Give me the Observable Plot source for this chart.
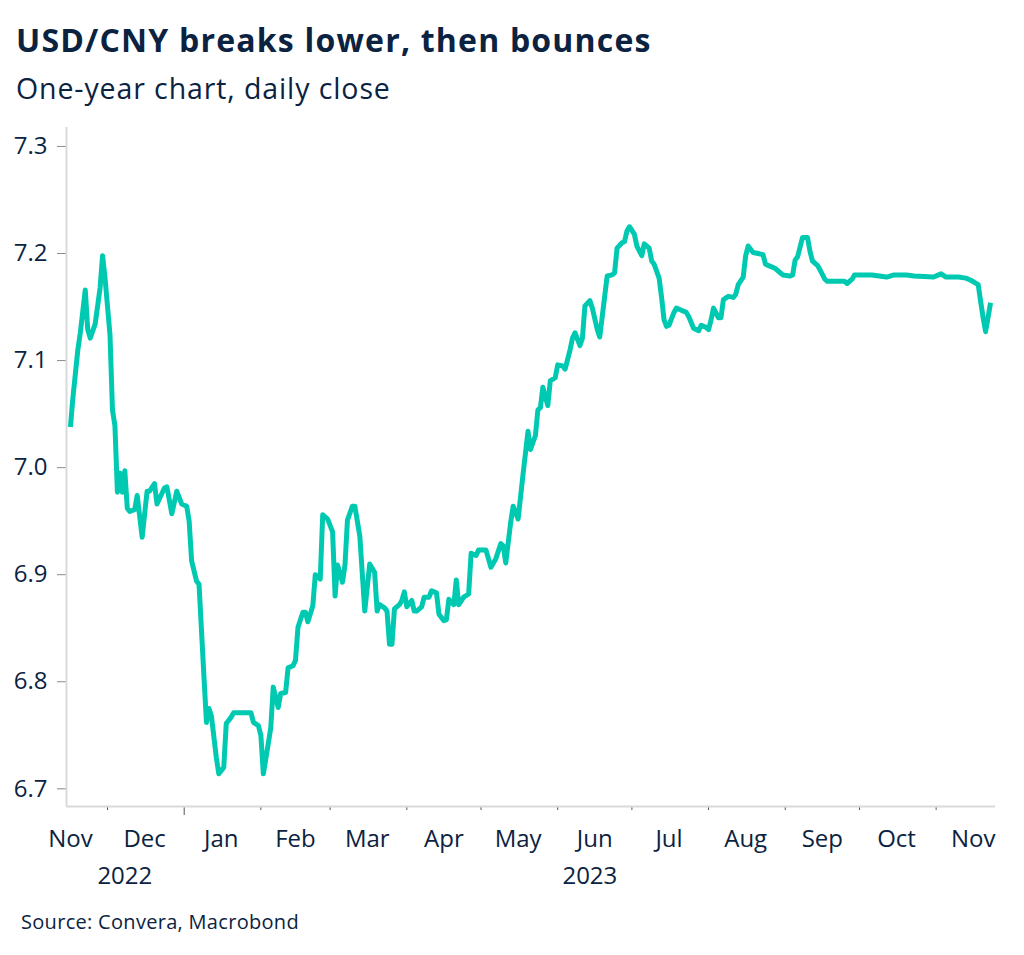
<!DOCTYPE html>
<html>
<head>
<meta charset="utf-8">
<script src="https://cdn.jsdelivr.net/npm/d3@7"></script>
<script src="https://cdn.jsdelivr.net/npm/@observablehq/plot@0.6"></script>
<style>
  body { margin: 0; background: #fff; font-family: "Open Sans", sans-serif; color: #0b2341; }
  #wrap { position: relative; width: 1024px; height: 955px; overflow: hidden; }
  #title { position: absolute; left: 16px; top: 18px; font-size: 32px; font-weight: 700; letter-spacing: 1.2px; white-space: nowrap; }
  #sub { position: absolute; left: 16px; top: 69px; font-size: 28.5px; letter-spacing: 0.9px; white-space: nowrap; }
  #chart { position: absolute; left: 0; top: 110px; }
  #src { position: absolute; left: 21px; top: 908px; font-size: 20px; letter-spacing: 0.3px; white-space: nowrap; }
</style>
</head>
<body>
<div id="wrap">
  <div id="title">USD/CNY breaks lower, then bounces</div>
  <div id="sub">One-year chart, daily close</div>
  <div id="chart"></div>
  <div id="src">Source: Convera, Macrobond</div>
</div>
<script>
const dates = [
"2022-11-16","2022-11-17","2022-11-19","2022-11-20","2022-11-22","2022-11-23","2022-11-24","2022-11-26","2022-11-28","2022-11-29","2022-11-30",
"2022-12-02","2022-12-03","2022-12-04","2022-12-05","2022-12-06","2022-12-07","2022-12-08","2022-12-09","2022-12-10","2022-12-12","2022-12-13","2022-12-15","2022-12-17","2022-12-18","2022-12-20","2022-12-21","2022-12-24","2022-12-25","2022-12-27","2022-12-29","2022-12-31",
"2023-01-02","2023-01-03","2023-01-04","2023-01-06","2023-01-07","2023-01-09","2023-01-10","2023-01-11","2023-01-12","2023-01-14","2023-01-15","2023-01-17","2023-01-18","2023-01-20","2023-01-21","2023-01-28","2023-01-29","2023-01-31",
"2023-02-01","2023-02-02","2023-02-03","2023-02-05","2023-02-06","2023-02-08","2023-02-09","2023-02-11","2023-02-12","2023-02-14","2023-02-15","2023-02-16","2023-02-18","2023-02-19","2023-02-20","2023-02-22","2023-02-23","2023-02-25","2023-02-26","2023-02-28",
"2023-03-02","2023-03-03","2023-03-04","2023-03-06","2023-03-07","2023-03-08","2023-03-10","2023-03-11","2023-03-13","2023-03-14","2023-03-15","2023-03-17","2023-03-19","2023-03-20","2023-03-21","2023-03-23","2023-03-24","2023-03-25","2023-03-26","2023-03-27","2023-03-29","2023-03-30","2023-03-31",
"2023-04-01","2023-04-03","2023-04-04","2023-04-05","2023-04-07","2023-04-08","2023-04-10","2023-04-11","2023-04-13","2023-04-14","2023-04-16","2023-04-17","2023-04-18","2023-04-20","2023-04-21","2023-04-22","2023-04-24","2023-04-26","2023-04-27","2023-04-29","2023-04-30",
"2023-05-03","2023-05-05","2023-05-07","2023-05-09","2023-05-10","2023-05-11","2023-05-13","2023-05-14","2023-05-16","2023-05-18","2023-05-20","2023-05-21","2023-05-23","2023-05-24","2023-05-25","2023-05-26","2023-05-28","2023-05-29","2023-05-31",
"2023-06-01","2023-06-03","2023-06-04","2023-06-06","2023-06-07","2023-06-08","2023-06-10","2023-06-11","2023-06-12","2023-06-14","2023-06-15","2023-06-17","2023-06-18","2023-06-20","2023-06-21","2023-06-23","2023-06-24","2023-06-25","2023-06-27","2023-06-28","2023-06-29","2023-06-30",
"2023-07-02","2023-07-03","2023-07-05","2023-07-06","2023-07-08","2023-07-09","2023-07-10","2023-07-12","2023-07-13","2023-07-14","2023-07-15","2023-07-16","2023-07-18","2023-07-19","2023-07-21","2023-07-23","2023-07-24","2023-07-26","2023-07-28","2023-07-29","2023-07-31",
"2023-08-01","2023-08-02","2023-08-03","2023-08-05","2023-08-06","2023-08-07","2023-08-09","2023-08-11","2023-08-12","2023-08-13","2023-08-15","2023-08-16","2023-08-17","2023-08-19","2023-08-21","2023-08-23","2023-08-24","2023-08-26","2023-08-28","2023-08-30","2023-08-31",
"2023-09-03","2023-09-04","2023-09-05","2023-09-06","2023-09-08","2023-09-10","2023-09-11","2023-09-12","2023-09-14","2023-09-15","2023-09-17","2023-09-18","2023-09-22","2023-09-25","2023-09-26","2023-09-28","2023-09-29",
"2023-10-06","2023-10-09","2023-10-12","2023-10-15","2023-10-20","2023-10-23","2023-10-31",
"2023-11-03","2023-11-05","2023-11-10","2023-11-13","2023-11-15","2023-11-18","2023-11-19","2023-11-20","2023-11-21","2023-11-23"
];
const closes = [
7.038,7.065,7.110,7.126,7.166,7.129,7.121,7.134,7.168,7.198,7.177,
7.124,7.054,7.039,6.977,6.995,6.977,6.997,6.962,6.959,6.961,6.974,6.935,6.978,6.978,6.985,6.966,6.981,6.982,6.957,6.978,6.966,
6.964,6.950,6.913,6.894,6.891,6.804,6.762,6.775,6.768,6.729,6.714,6.720,6.761,6.767,6.771,6.771,6.762,6.759,
6.750,6.714,6.728,6.757,6.795,6.776,6.789,6.790,6.813,6.815,6.820,6.851,6.865,6.865,6.856,6.871,6.900,6.896,6.956,6.952,
6.940,6.880,6.909,6.893,6.909,6.951,6.964,6.964,6.936,6.901,6.866,6.910,6.902,6.866,6.872,6.869,6.866,6.835,6.835,6.868,6.872,6.876,6.884,
6.870,6.876,6.866,6.866,6.870,6.879,6.879,6.885,6.883,6.863,6.857,6.858,6.877,6.872,6.895,6.872,6.879,6.882,6.920,6.918,6.923,
6.923,6.907,6.915,6.929,6.927,6.911,6.949,6.964,6.952,6.994,7.034,7.017,7.030,7.054,7.056,7.075,7.058,7.081,7.084,
7.096,7.095,7.092,7.110,7.121,7.126,7.114,7.121,7.151,7.156,7.149,7.129,7.122,7.160,7.179,7.180,7.182,7.205,7.210,7.211,7.221,7.225,
7.218,7.207,7.198,7.209,7.205,7.193,7.190,7.177,7.159,7.138,7.132,7.133,7.145,7.149,7.147,7.145,7.141,7.130,7.128,7.133,7.131,
7.129,7.138,7.149,7.140,7.140,7.157,7.160,7.159,7.162,7.171,7.178,7.198,7.207,7.201,7.200,7.199,7.190,7.188,7.186,7.182,7.180,
7.179,7.180,7.194,7.197,7.215,7.215,7.202,7.193,7.189,7.185,7.176,7.174,7.174,7.174,7.172,7.176,7.180,
7.180,7.179,7.178,7.180,7.180,7.179,7.178,
7.181,7.178,7.178,7.177,7.175,7.171,7.155,7.140,7.127,7.154
];

const yTicks = [6.7, 6.8, 6.9, 7.0, 7.1, 7.2, 7.3];
const monthStarts = ["2022-12-01","2023-02-01","2023-03-01","2023-04-01","2023-05-01","2023-06-01","2023-07-01","2023-08-01","2023-09-01","2023-10-01","2023-11-01"];
const yearStarts = ["2023-01-01"];
const monthLabelDates = ["2022-11-16","2022-12-16","2023-01-16","2023-02-15","2023-03-16","2023-04-16","2023-05-16","2023-06-16","2023-07-16","2023-08-16","2023-09-16","2023-10-16","2023-11-16"];
const monthLabels = ["Nov","Dec","Jan","Feb","Mar","Apr","May","Jun","Jul","Aug","Sep","Oct","Nov"];
const years = ["2022","2023"];
const yearCenters = ["2022-12-08","2023-06-14"];

const parse = s => new Date(s + "T00:00:00Z");
const data = dates.map((d, i) => ({date: parse(d), close: closes[i]}));
const xDomain = [new Date(Date.UTC(2022, 10, 14, 10)), new Date(Date.UTC(2023, 10, 25))];
const yDomain = [6.6835, 7.3177];
const ink = "#0b2341";
const axisGrey = "#d9d9d9";
const tickGrey = "#8a8a8a";
const teal = "#00c9b1";

const labelMap = new Map(monthLabelDates.map((d, i) => [+parse(d), monthLabels[i]]));

const chart = Plot.plot({
  width: 1024,
  height: 790,
  marginLeft: 66,
  marginRight: 29,
  marginTop: 17,
  marginBottom: 94,
  style: {fontFamily: "'Open Sans', sans-serif", color: ink, background: "#fff", overflow: "visible"},
  x: {type: "utc", domain: xDomain, label: null},
  y: {domain: yDomain, label: null},
  marks: [
    Plot.axisY({ticks: yTicks, tickSize: 9, tickPadding: 10, tickFormat: d3.format(".1f"), fontSize: 24, stroke: tickGrey, fill: ink, label: null}),
    Plot.axisX({ticks: monthStarts.map(parse), tickSize: 4, tickFormat: () => "", stroke: "#555", label: null}),
    Plot.axisX({ticks: yearStarts.map(parse), tickSize: 9, tickFormat: () => "", stroke: "#555", label: null}),
    Plot.axisX({ticks: monthLabelDates.map(parse), tickSize: 0, tickPadding: 23, tickFormat: d => labelMap.get(+d), fontSize: 24, fill: ink, label: null}),
    Plot.text(years, {x: yearCenters.map(parse), y: [yDomain[0], yDomain[0]], dy: 70, text: d => d, fontSize: 24, fill: ink, lineAnchor: "middle"}),
    Plot.ruleX([xDomain[0]], {stroke: axisGrey, strokeWidth: 2}),
    Plot.ruleY([yDomain[0]], {stroke: axisGrey, strokeWidth: 2}),
    Plot.line(data, {x: "date", y: "close", stroke: teal, strokeWidth: 5, strokeLinecap: "butt", strokeLinejoin: "round"})
  ]
});
document.getElementById("chart").appendChild(chart);
</script>
</body>
</html>
